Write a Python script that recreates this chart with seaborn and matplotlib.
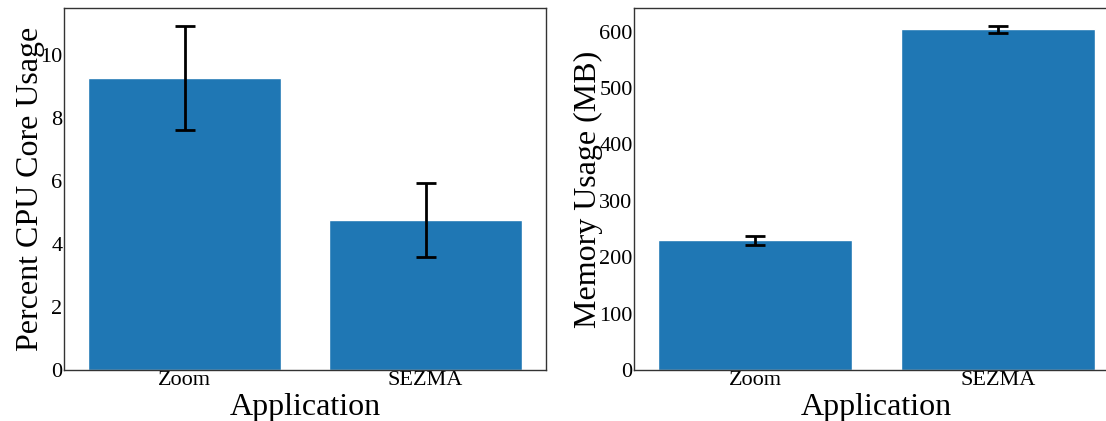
import matplotlib
matplotlib.use("Agg")
import matplotlib.pyplot as plt
import seaborn as sns
import pandas as pd

applications = ["Zoom", "SEZMA"]
cpu_mean = [9.27, 4.77]
cpu_err = [1.65, 1.17]
mem_mean = [230.5, 604.0]
mem_err = [8.0, 6.0]

sns.set_theme(style="white")
plt.rcParams["font.family"] = ["Liberation Serif", "DejaVu Serif"]
plt.rcParams["axes.edgecolor"] = "#333333"
plt.rcParams["axes.linewidth"] = 1.0
plt.rcParams["text.color"] = "black"
plt.rcParams["axes.labelcolor"] = "black"
plt.rcParams["xtick.color"] = "black"
plt.rcParams["ytick.color"] = "black"

fig = plt.figure(figsize=(11.06, 4.21), dpi=100)
ax1 = fig.add_axes([64/1106, 1-370/421, 482/1106, (370-8)/421])
ax2 = fig.add_axes([634/1106, 1-370/421, 485/1106, (370-8)/421])

df_cpu = pd.DataFrame({"Application": applications, "val": cpu_mean})
df_mem = pd.DataFrame({"Application": applications, "val": mem_mean})

for ax, df, err, ylabel in [(ax1, df_cpu, cpu_err, "Percent CPU Core Usage"),
                             (ax2, df_mem, mem_err, "Memory Usage (MB)")]:
    sns.barplot(data=df, x="Application", y="val", ax=ax, color="#1f77b4",
                saturation=1, width=0.8, errorbar=None)
    ax.errorbar(range(len(df)), df["val"], yerr=err, fmt="none", ecolor="black",
                elinewidth=2, capsize=7, capthick=2)
    ax.set_xlabel("Application", fontsize=23, labelpad=2)
    ax.set_ylabel(ylabel, fontsize=23, labelpad=-3)
    ax.tick_params(axis="both", labelsize=16, length=0, pad=1)
    ax.set_xlim(-0.5, 1.5)
    for s in ax.spines.values():
        s.set_visible(True)

ax1.set_ylim(0, 11.49)
ax2.set_ylim(0, 642)

fig.savefig("out.png", dpi=100)
